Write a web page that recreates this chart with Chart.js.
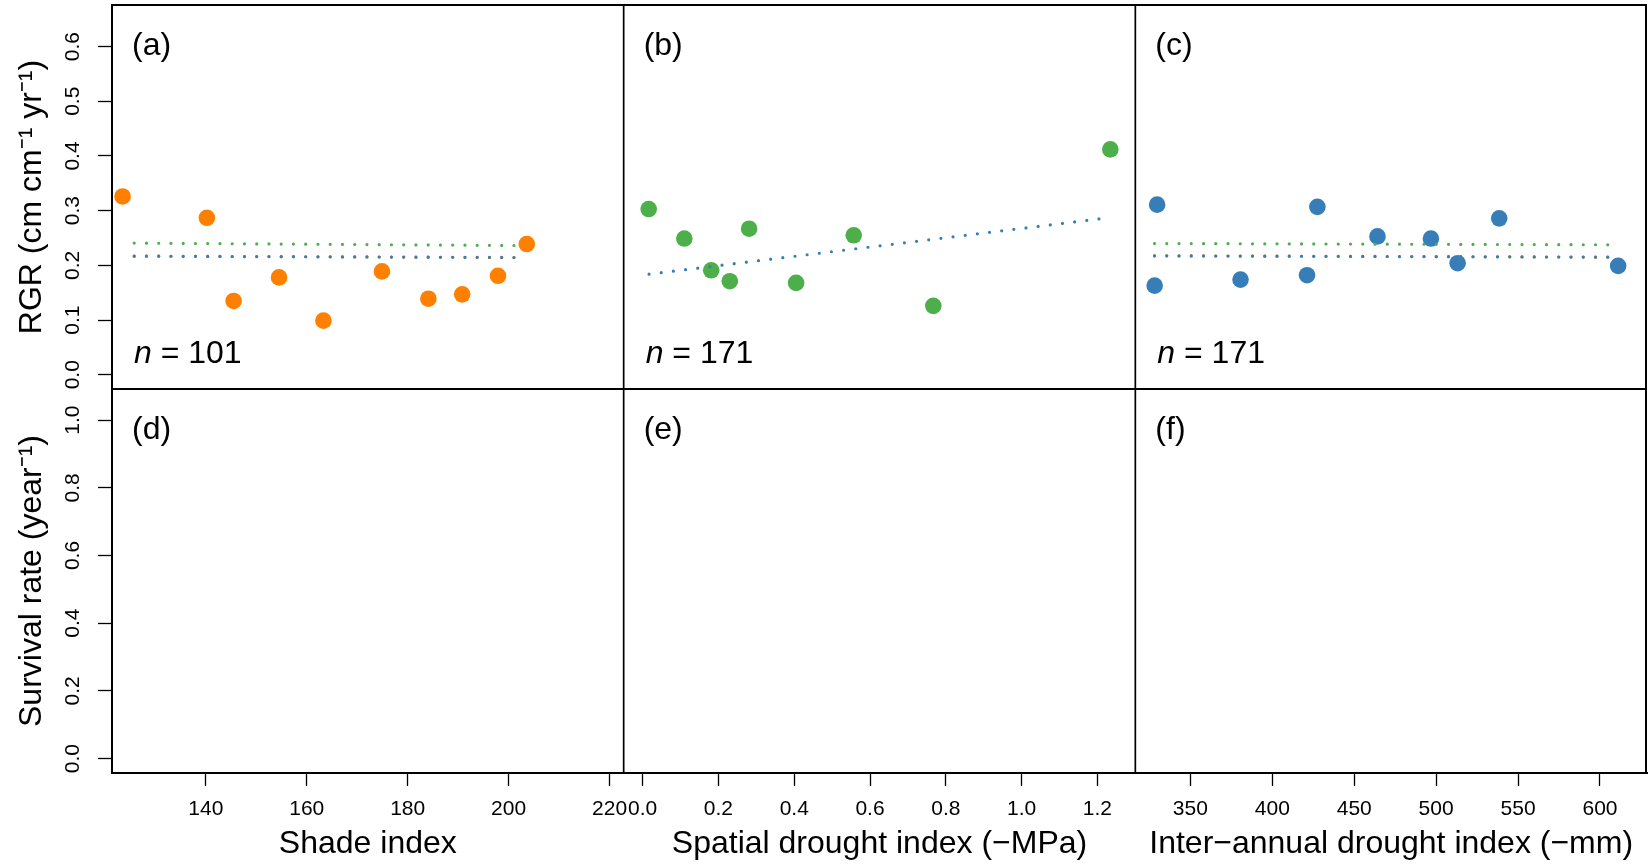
<!DOCTYPE html>
<html>
<head>
<meta charset="utf-8">
<script src="https://cdn.jsdelivr.net/npm/chart.js@4.4.0/dist/chart.umd.min.js"></script>
<style>
  html, body { margin: 0; padding: 0; background: #fff; }
  #wrap { width: 1648px; height: 866px; }
</style>
</head>
<body>
<div id="wrap"><canvas id="chart" width="1648" height="866"></canvas></div>
<script>
// panel (a): shade index vs RGR
const shadeX = [123.5, 140.2, 145.5, 154.5, 163.3, 174.9, 184.1, 190.8, 197.9, 203.6];
const shadeY = [0.326, 0.287, 0.135, 0.178, 0.099, 0.189, 0.139, 0.147, 0.181, 0.239];

// panel (b): spatial drought index vs RGR
const spatialX = [0.016, 0.110, 0.181, 0.230, 0.281, 0.405, 0.557, 0.767, 1.234];
const spatialY = [0.303, 0.249, 0.191, 0.171, 0.267, 0.168, 0.255, 0.126, 0.412];

// panel (c): inter-annual drought index vs RGR
const interX = [329.7, 328.2, 380.6, 421.2, 427.5, 464.2, 496.8, 513.1, 538.5, 611.1];
const interY = [0.311, 0.163, 0.174, 0.182, 0.307, 0.253, 0.249, 0.204, 0.286, 0.199];

// dotted model lines (end points)
const shadeLineX = [125.8, 201.3];
const shadeGreenY = [0.2407, 0.2363];
const shadeBlueY = [0.2169, 0.2144];
const spatialLineX = [0.017, 1.205];
const spatialBlueY = [0.184, 0.285];
const interLineX = [328.1, 605.8];
const interGreenY = [0.240, 0.2376];
const interBlueY = [0.2175, 0.215];

// axis ticks
const shadeTicks = [140, 160, 180, 200, 220];
const spatialTicks = [0, 0.2, 0.4, 0.6, 0.8, 1.0, 1.2];
const interTicks = [350, 400, 450, 500, 550, 600];
const rgrTicks = [0, 0.1, 0.2, 0.3, 0.4, 0.5, 0.6];
const survTicks = [0, 0.2, 0.4, 0.6, 0.8, 1.0];

const panelTags = ['(a)', '(b)', '(c)', '(d)', '(e)', '(f)'];
const sampleSizes = [101, 171, 171];

const ORANGE = '#FF7F00';
const GREEN = '#4DAF4A';
const BLUE = '#377EB8';
const FONT = '"Liberation Sans", Arial, sans-serif';

const pts = (xs, ys) => xs.map((x, i) => ({ x: x, y: ys[i] }));

function pointSet(xs, ys, color, xId) {
  return {
    data: pts(xs, ys), xAxisID: xId, yAxisID: 'yTop', order: 5,
    backgroundColor: color, borderWidth: 0, pointRadius: 8.3, pointHoverRadius: 8.3, showLine: false
  };
}

function dotLine(xs, ys, color, xId, order) {
  return {
    data: pts(xs, ys), xAxisID: xId, yAxisID: 'yTop', order: order,
    showLine: true, pointRadius: 0, borderColor: color, borderWidth: 3.2,
    borderDash: [0, 12.25], borderCapStyle: 'round', fill: false
  };
}

function xScale(min, max, ticks, title, fmt) {
  return {
    type: 'linear', axis: 'x', position: 'bottom', stack: 'cols', stackWeight: 1,
    min: min, max: max,
    afterBuildTicks: s => { s.ticks = ticks.map(v => ({ value: v })); },
    afterFit: s => { s.height = 93; s.paddingLeft = 0; s.paddingRight = 0; },
    grid: { display: true, drawOnChartArea: false, drawTicks: true, tickLength: 13, tickWidth: 1.3, tickColor: '#000' },
    border: { display: true, color: '#000', width: 2 },
    ticks: { color: '#000', font: { family: FONT, size: 21 }, padding: 11, maxRotation: 0, autoSkip: false, callback: fmt },
    title: { display: true, text: title, color: '#000', font: { family: FONT, size: 32 }, padding: { top: 0, bottom: 3 } }
  };
}

function yScale(min, max, ticks, title, weight) {
  return {
    type: 'linear', axis: 'y', position: 'left', stack: 'rows', stackWeight: 1, weight: weight,
    min: min, max: max,
    afterBuildTicks: s => { s.ticks = ticks.map(v => ({ value: v })); },
    afterFit: s => { s.width = 112; s.paddingTop = 0; s.paddingBottom = 0; },
    grid: { display: true, drawOnChartArea: false, drawTicks: true, tickLength: 14, tickWidth: 1.3, tickColor: '#000' },
    border: { display: true, color: '#000', width: 2 },
    ticks: { color: '#000', font: { family: FONT, size: 21 }, padding: 10, minRotation: 90, maxRotation: 90,
      crossAlign: 'center', autoSkip: false, callback: v => v.toFixed(1) },
    title: { display: true, text: title, color: '#000', font: { family: FONT, size: 32 }, padding: { top: 13, bottom: 0 } }
  };
}

// frame, panel letters and sample sizes
const panelText = {
  id: 'panelText',
  afterDraw(chart) {
    const { ctx } = chart;
    const s = chart.scales;
    const cols = [s.x1, s.x2, s.x3];
    const rows = [s.yTop, s.yBot];
    ctx.save();
    ctx.strokeStyle = '#000';
    ctx.lineWidth = 2;
    ctx.beginPath();
    ctx.moveTo(s.x1.left, s.yTop.top);
    ctx.lineTo(s.x3.right - 1, s.yTop.top);
    ctx.lineTo(s.x3.right - 1, s.yBot.bottom);
    ctx.moveTo(s.x1.left, s.yTop.bottom);
    ctx.lineTo(s.x3.right, s.yTop.bottom);
    ctx.stroke();
    ctx.lineWidth = 1.7;
    ctx.beginPath();
    [s.x1.right, s.x2.right].forEach(x => {
      ctx.moveTo(x, s.yTop.top);
      ctx.lineTo(x, s.yBot.bottom);
    });
    ctx.stroke();

    ctx.fillStyle = '#000';
    ctx.textBaseline = 'alphabetic';
    ctx.textAlign = 'left';
    rows.forEach((r, ri) => {
      cols.forEach((c, ci) => {
        ctx.font = '32px ' + FONT;
        ctx.fillText(panelTags[ri * 3 + ci], c.left + 20, r.top + 50);
      });
    });
    cols.forEach((c, ci) => {
      const x = c.left + 22;
      const y = s.yTop.bottom - 26;
      ctx.font = 'italic 32px ' + FONT;
      ctx.fillText('n', x, y);
      const w = ctx.measureText('n').width;
      ctx.font = '32px ' + FONT;
      ctx.fillText(' = ' + sampleSizes[ci], x + w, y);
    });
    ctx.restore();
  }
};

new Chart(document.getElementById('chart'), {
  type: 'scatter',
  data: {
    datasets: [
      pointSet(shadeX, shadeY, ORANGE, 'x1'),
      pointSet(spatialX, spatialY, GREEN, 'x2'),
      pointSet(interX, interY, BLUE, 'x3'),
      dotLine(shadeLineX, shadeGreenY, GREEN, 'x1', 2),
      dotLine(shadeLineX, shadeBlueY, ORANGE, 'x1', 3),
      dotLine(shadeLineX, shadeBlueY, BLUE, 'x1', 1),
      dotLine(spatialLineX, spatialBlueY, BLUE, 'x2', 1),
      dotLine(interLineX, interGreenY, GREEN, 'x3', 2),
      dotLine(interLineX, interBlueY, ORANGE, 'x3', 3),
      dotLine(interLineX, interBlueY, BLUE, 'x3', 1)
    ]
  },
  options: {
    responsive: false,
    animation: false,
    devicePixelRatio: 1,
    layout: { padding: { top: 5, right: 1, bottom: 0, left: 0 }, autoPadding: false },
    plugins: { legend: { display: false }, tooltip: { enabled: false } },
    scales: {
      x1: xScale(121.4, 222.8, shadeTicks, 'Shade index', v => String(v)),
      x2: xScale(-0.05, 1.30, spatialTicks, 'Spatial drought index (\u2212MPa)', v => v.toFixed(1)),
      x3: xScale(316.4, 628.7, interTicks, 'Inter\u2212annual drought index (\u2212mm)', v => String(v)),
      yTop: yScale(-0.026, 0.676, rgrTicks, 'RGR (cm cm\u207B\u00B9 yr\u207B\u00B9)', 2),
      yBot: yScale(-0.0426, 1.092, survTicks, 'Survival rate (year\u207B\u00B9)', 1)
    }
  },
  plugins: [panelText]
});
</script>
</body>
</html>
